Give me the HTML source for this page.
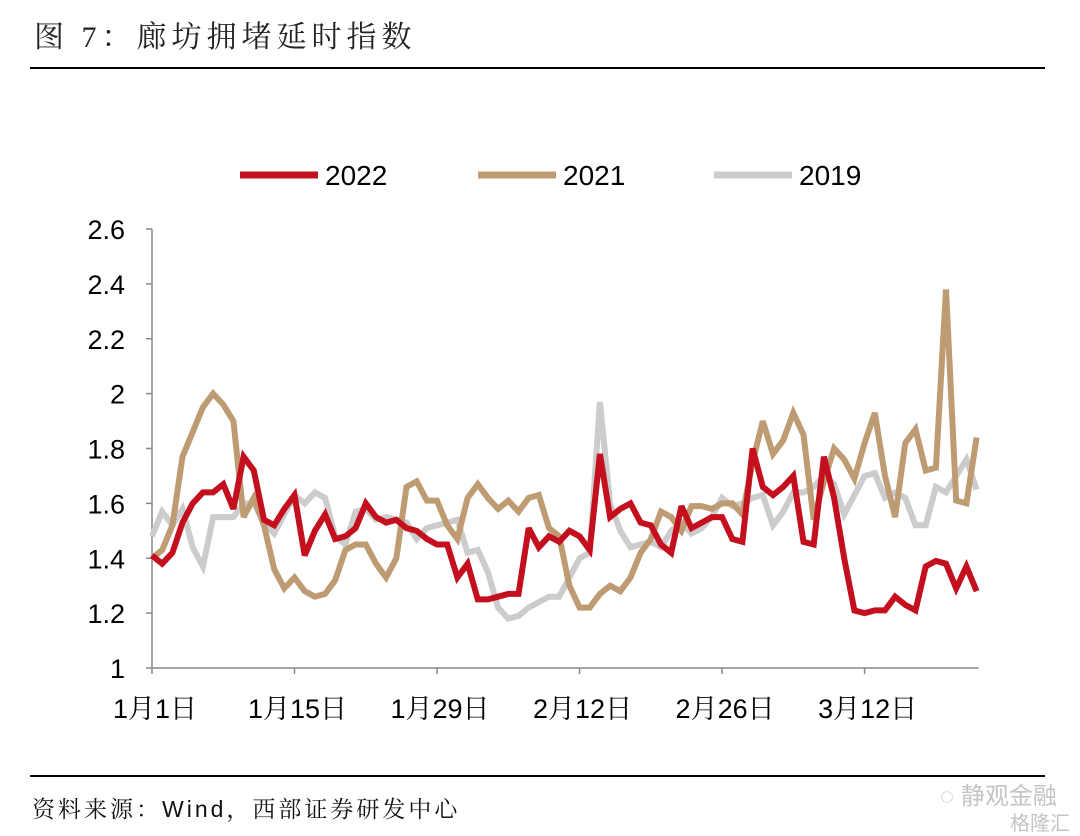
<!DOCTYPE html>
<html><head><meta charset="utf-8">
<style>
html,body{margin:0;padding:0;background:#fff;}
body{width:1080px;height:836px;position:relative;overflow:hidden;font-family:"Liberation Sans","Noto Serif CJK SC",serif;}
.title{position:absolute;left:34px;top:12px;font-size:30px;letter-spacing:5px;color:#222;font-family:"Liberation Serif","Noto Serif CJK SC",serif;}
.src{position:absolute;left:32px;top:791px;font-size:23px;letter-spacing:3px;color:#111;font-family:"Liberation Sans","Noto Serif CJK SC",serif;}
.wm{position:absolute;left:940px;top:776px;font-size:24px;color:#c4c4c4;font-family:"Liberation Sans","Noto Sans CJK SC",sans-serif;}
.wm2{position:absolute;left:1010px;top:807px;font-size:20px;color:#c4c4c4;font-family:"Liberation Sans","Noto Sans CJK SC",sans-serif;}
</style></head><body>
<div class="title">图 7：廊坊拥堵延时指数</div>
<div style="position:absolute;left:30px;top:67px;width:1015px;height:2px;background:#000"></div>
<div style="position:absolute;left:30px;top:775px;width:1015px;height:2px;background:#000"></div>
<div class="src">资料来源：Wind，西部证券研发中心</div>
<div class="wm">◌ 静观金融</div>
<div class="wm2">格隆汇</div>
<svg id="chart" width="1080" height="836" style="position:absolute;left:0;top:0"></svg>
<script>
const yTicks=[1,1.2,1.4,1.6,1.8,2,2.2,2.4,2.6];
const yTickLabels=["1","1.2","1.4","1.6","1.8","2","2.2","2.4","2.6"];
const xTickDays=[0,14,28,42,56,70];
const xTickLabels=["1月1日","1月15日","1月29日","2月12日","2月26日","3月12日"];
const seriesNames=["2022","2021","2019"];
const s2022=[1.41,1.38,1.42,1.53,1.60,1.64,1.64,1.67,1.58,1.77,1.72,1.54,1.52,1.58,1.63,1.41,1.50,1.56,1.47,1.48,1.51,1.60,1.55,1.53,1.54,1.51,1.50,1.47,1.45,1.45,1.33,1.38,1.25,1.25,1.26,1.27,1.27,1.51,1.44,1.48,1.46,1.50,1.48,1.43,1.78,1.55,1.58,1.60,1.53,1.52,1.45,1.42,1.59,1.51,1.53,1.55,1.55,1.47,1.46,1.80,1.66,1.63,1.66,1.70,1.46,1.45,1.77,1.62,1.40,1.21,1.20,1.21,1.21,1.26,1.23,1.21,1.37,1.39,1.38,1.29,1.37,1.28];
const s2021=[1.40,1.43,1.52,1.77,1.86,1.95,2.00,1.96,1.90,1.55,1.62,1.52,1.36,1.29,1.33,1.28,1.26,1.27,1.32,1.43,1.45,1.45,1.38,1.33,1.40,1.66,1.68,1.61,1.61,1.52,1.47,1.62,1.67,1.62,1.58,1.61,1.57,1.62,1.63,1.51,1.48,1.30,1.22,1.22,1.27,1.30,1.28,1.33,1.42,1.47,1.57,1.55,1.50,1.59,1.59,1.58,1.60,1.60,1.56,1.75,1.90,1.78,1.83,1.93,1.85,1.54,1.68,1.80,1.76,1.69,1.82,1.93,1.70,1.55,1.82,1.87,1.72,1.73,2.38,1.61,1.60,1.84];
const s2019=[1.48,1.57,1.52,1.58,1.44,1.37,1.55,1.55,1.55,1.60,1.60,1.53,1.49,1.56,1.63,1.60,1.64,1.62,1.48,1.45,1.57,1.58,1.54,1.55,1.54,1.53,1.47,1.51,1.52,1.53,1.54,1.42,1.43,1.35,1.22,1.18,1.19,1.22,1.24,1.26,1.26,1.33,1.40,1.42,1.97,1.60,1.50,1.44,1.45,1.46,1.44,1.50,1.53,1.49,1.51,1.55,1.62,1.59,1.60,1.62,1.63,1.52,1.57,1.64,1.64,1.66,1.70,1.67,1.56,1.63,1.70,1.71,1.62,1.64,1.62,1.52,1.52,1.66,1.64,1.70,1.76,1.65];
const colors=["#c4101e","#bf9b74","#cccccc"];

const NS="http://www.w3.org/2000/svg";
const svg=document.getElementById('chart');
const X0=152,DX=10.18,Y0=668,Y1=229,VMIN=1,VMAX=2.6;
const xs=d=>X0+d*DX;
const ys=v=>Y0-(v-VMIN)/(VMAX-VMIN)*(Y0-Y1);
function mk(tag,attrs){const e=document.createElementNS(NS,tag);for(const k in attrs)e.setAttribute(k,attrs[k]);svg.appendChild(e);return e;}

let ax=mk('line',{x1:X0,y1:Y1,x2:X0,y2:Y0,stroke:'#888','stroke-width':1.5});


let bx=mk('line',{x1:X0,y1:Y0,x2:xs(81)+2,y2:Y0,stroke:'#888','stroke-width':1.5});



yTicks.forEach((v,i)=>{
  const t=mk('line',{x1:X0-6,y1:ys(v),x2:X0,y2:ys(v),stroke:'#888','stroke-width':1.5});
  
  
  const l=mk('text',{x:125,y:ys(v)+10,'text-anchor':'end','font-size':27,'font-family':'Liberation Sans, sans-serif',fill:'#000'});
  l.textContent=yTickLabels[i];
  
  
});
xTickDays.forEach((d,i)=>{
  const t=mk('line',{x1:xs(d),y1:Y0,x2:xs(d),y2:Y0+6,stroke:'#888','stroke-width':1.5});
  
  
  const l=mk('text',{x:xs(d)+3,y:718,'text-anchor':'middle','font-size':27,'font-family':'Liberation Sans, Noto Serif CJK SC, serif',fill:'#000'});
  l.textContent=xTickLabels[i];
  
  
});

[s2019,s2021,s2022].forEach((s,k)=>{
  const idx=2-k;
  const p=s.map((v,i)=>(i?'L':'M')+xs(i).toFixed(1)+' '+ys(v).toFixed(1)).join(' ');
  const e=mk('path',{d:p,fill:'none',stroke:colors[idx],'stroke-width':6,'stroke-linejoin':'miter','stroke-miterlimit':3});
  
  
});

const legX=[240,478,714];
seriesNames.forEach((n,i)=>{
  const l=mk('line',{x1:legX[i],y1:175,x2:legX[i]+78,y2:175,stroke:colors[i],'stroke-width':7});
  
  
  const t=mk('text',{x:legX[i]+85,y:185,'font-size':28,'font-family':'Liberation Sans, sans-serif',fill:'#000'});
  t.textContent=n;
  
  
});
</script>
</body></html>
